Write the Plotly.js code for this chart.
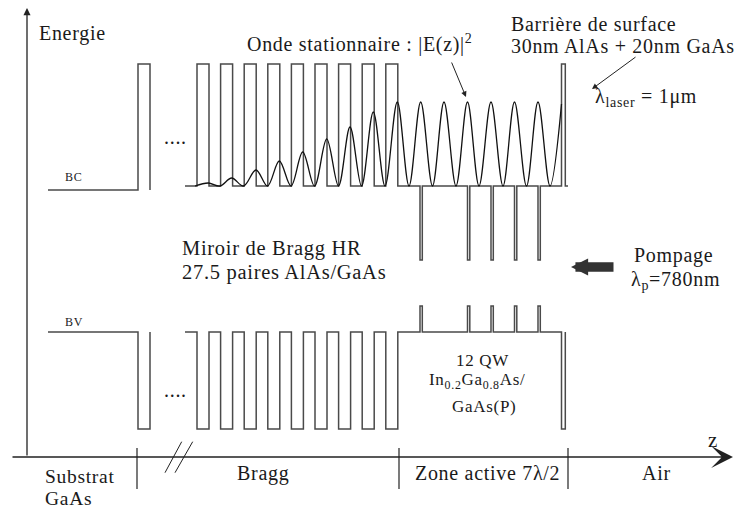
<!DOCTYPE html>
<html><head><meta charset="utf-8">
<script src="https://cdn.plot.ly/plotly-3.0.1.min.js"></script>
<style>
html,body{margin:0;padding:0;background:#fff}
.annotation-text{letter-spacing:0.7px}
</style>
</head><body><div id="chart" style="width:736px;height:509px"></div>
<script>
// ---- data: z = position along growth axis, E = energy (arbitrary units) ----
const levelBC_sub = 267;      // conduction band, GaAs substrate
const levelBC = 271;          // conduction band, GaAs (Bragg + active zone)
const levelBC_AlAs = 393;     // conduction band, AlAs
const levelBC_QW = 197;       // conduction band, InGaAs quantum wells
const levelBV = 125;          // valence band, GaAs
const levelBV_AlAs = 28;      // valence band, AlAs
const levelBV_QW = 151;       // valence band, InGaAs quantum wells

const substrateStart = 21;
const substrateAlAs = [111, 123];
const braggStart = 158;
const braggAlAsLeft  = [170, 193.6, 217.2, 240.8, 264.4, 288, 311.6, 335.2, 358.8];
const braggAlAsRight = [182, 205.6, 229.2, 252.8, 276.4, 300, 323.6, 347.2, 370.8];
const qwLeft  = [393, 440.5, 464, 487.5, 511];
const qwRight = [395.3, 442.8, 466.3, 489.8, 513.3];
const surfaceAlAs = [534.5, 538.3];
const capEnd = 541;

// standing wave |E(z)|^2 : nodes and antinodes
const waveZ   = [168, 181.3, 193, 204.7, 216.5, 229, 240.5, 252.3, 264, 275.7, 287.5, 299.7, 311.5, 323, 334.5, 346.3, 358, 370.3, 382, 393.7, 405.5, 417, 429, 440.5, 452, 464, 476, 487.5, 499.5, 511, 523, 534.5];
const waveAmp = [0, 3, 0, 8, 0, 16, 0, 25, 0, 34, 0, 47, 0, 59, 0, 74, 0, 84, 0, 84, 0, 84, 0, 84, 0, 84, 0, 84, 0, 84, 0, 82];

// x-axis region labels
const regionLabels = ['Bragg', 'Zone active 7λ/2', 'Air'];
const regionCenters = [236, 460.5, 629.5];
const regionTicks = [110, 372, 541];

// ---- build band-edge profiles ----
function band(levelSub, levelBase, levelBarrier, levelQW, withCap) {
  const x = [substrateStart, substrateAlAs[0], substrateAlAs[0], substrateAlAs[1], substrateAlAs[1], null, braggStart];
  const y = [levelSub, levelSub, levelBarrier, levelBarrier, levelSub, null, levelBase];
  for (let i = 0; i < braggAlAsLeft.length; i++) {
    x.push(braggAlAsLeft[i], braggAlAsLeft[i], braggAlAsRight[i], braggAlAsRight[i]);
    y.push(levelBase, levelBarrier, levelBarrier, levelBase);
  }
  for (let i = 0; i < qwLeft.length; i++) {
    x.push(qwLeft[i], qwLeft[i], qwRight[i], qwRight[i]);
    y.push(levelBase, levelQW, levelQW, levelBase);
  }
  x.push(surfaceAlAs[0], surfaceAlAs[0], surfaceAlAs[1], surfaceAlAs[1]);
  y.push(levelBase, levelBarrier, levelBarrier, levelBase);
  if (withCap) { x.push(capEnd); y.push(levelBase); }
  return {x, y};
}
const cb = band(levelBC_sub, levelBC, levelBC_AlAs, levelBC_QW, true);
const vb = band(levelBV, levelBV, levelBV_AlAs, levelBV_QW, false);

const bandLine = {color: '#4a4a4a', width: 1.5};
const traces = [
  {x: cb.x, y: cb.y, mode: 'lines', line: bandLine, connectgaps: false, hoverinfo: 'skip'},
  {x: vb.x, y: vb.y, mode: 'lines', line: bandLine, connectgaps: false, hoverinfo: 'skip'},
  {x: waveZ, y: waveAmp.map(a => levelBC + a), mode: 'lines',
   line: {color: '#111', width: 1.3, shape: 'spline', smoothing: 1}, hoverinfo: 'skip'}
];

const F = 'Liberation Serif, DejaVu Serif, serif';
const txtColor = '#1a1a1a';
function lab(text, x, y, size, xanchor) {
  return {text, x, y, xref: 'x', yref: 'y', showarrow: false, xanchor: xanchor || 'left', yanchor: 'middle',
          font: {family: F, size: size || 20, color: txtColor}, align: xanchor === 'center' ? 'center' : 'left'};
}
function arrow(x, y, ax, ay, head, width, size, color) {
  return {text: '', x, y, ax, ay, xref: 'x', yref: 'y', axref: 'x', ayref: 'y', showarrow: true,
          arrowhead: head, arrowwidth: width, arrowsize: size, arrowcolor: color || '#222', standoff: 0, startstandoff: 0};
}

const annotations = [
  lab('Energie', 10, 424, 20),
  lab('BC', 36, 280, 12),
  lab('BV', 36, 135, 12),
  lab('....', 135, 320, 20),
  lab('....', 135, 67, 20),
  lab('Onde stationnaire : |E(z)|<sup>2</sup>', 218, 414, 20),
  lab('Barrière de surface', 482, 433, 20),
  lab('30nm AlAs + 20nm GaAs', 482, 411, 20),
  lab('λ<sub>laser</sub> = 1μm', 566, 360, 20),
  lab('Miroir de Bragg HR', 153, 209, 20.5),
  lab('27.5 paires AlAs/GaAs', 153, 185, 20.5),
  lab('Pompage', 605, 202, 20),
  lab('λ<sub>p</sub>=780nm', 602, 177, 20),
  lab('12 QW', 455, 97, 17, 'center'),
  lab('In<sub>0.2</sub>Ga<sub>0.8</sub>As/', 450, 76, 17, 'center'),
  lab('GaAs(P)', 456.5, 51, 17, 'center'),
  lab('Substrat', 16, -19, 19.5),
  lab('GaAs', 16, -41, 19.5),
  lab('z', 686, 17, 21, 'center'),
  // axes
  arrow(706, 0, -16, 0, 3, 1.4, 2.6, '#222'),
  arrow(0, 449, 0, 0, 2, 1.3, 1.1, '#222'),
  // pointers
  arrow(439, 360, 424, 396, 2, 1, 1.1, '#222'),
  arrow(565, 368, 610, 401, 2, 1, 1.1, '#222'),
  // pump arrow
  arrow(544, 190, 588, 190, 2, 9.5, 0.36, '#333')
];
regionLabels.forEach((t, i) => annotations.push(lab(t, regionCenters[i], -16, 20, 'center')));

const shapes = regionTicks.map(z => ({type: 'line', xref: 'x', yref: 'y', x0: z, x1: z, y0: 9, y1: -32,
  line: {color: '#222', width: 1.2}}));
shapes.push({type: 'line', xref: 'x', yref: 'y', x0: 138, x1: 154.7, y0: -15.7, y1: 15.3, line: {color: '#222', width: 1}});
shapes.push({type: 'line', xref: 'x', yref: 'y', x0: 148, x1: 165.7, y0: -15.7, y1: 15.3, line: {color: '#222', width: 1}});

const layout = {
  width: 736, height: 509, margin: {l: 0, r: 0, t: 0, b: 0},
  paper_bgcolor: '#fff', plot_bgcolor: '#fff', showlegend: false,
  xaxis: {range: [-27, 709], visible: false, fixedrange: true},
  yaxis: {range: [-52, 457], visible: false, fixedrange: true},
  annotations, shapes
};
Plotly.newPlot('chart', traces, layout, {staticPlot: true, displayModeBar: false});
</script>
</body></html>
